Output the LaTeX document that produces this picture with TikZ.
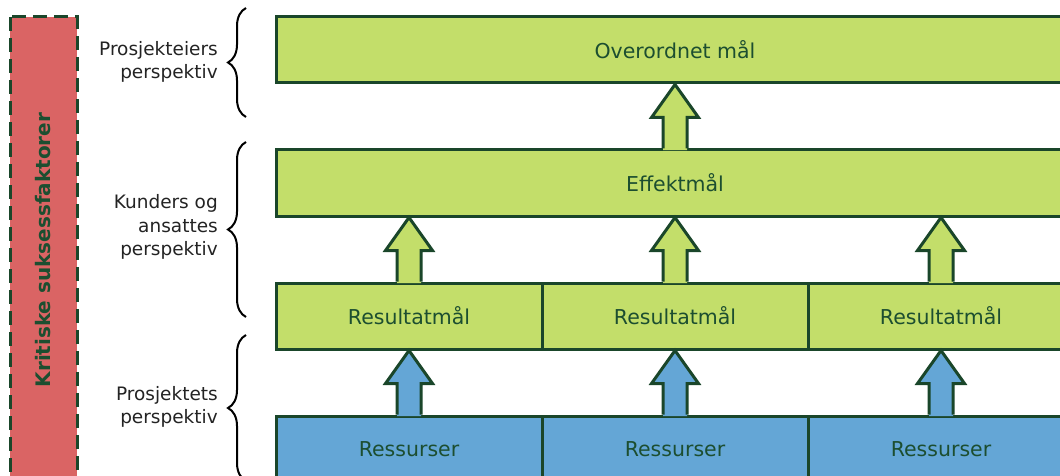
\documentclass[tikz,border=0pt]{standalone}
\usepackage{fontspec}
\setmainfont{DejaVu Sans}
\usetikzlibrary{calc,decorations.pathreplacing}
\definecolor{goalgreen}{RGB}{195,222,106}
\definecolor{resblue}{RGB}{100,166,214}
\definecolor{edgegreen}{RGB}{26,70,42}
\definecolor{txtgreen}{RGB}{28,78,48}
\definecolor{ksfred}{RGB}{218,100,100}
\definecolor{persgray}{RGB}{35,35,35}

\newcommand{\upblock}[3]{%
  \fill[#3] ($(#1)+(-12,1.6)$) -- ($(#2)+(-12,33)$) -- ($(#2)+(-23.5,33)$) -- (#2)
    -- ($(#2)+(23.5,33)$) -- ($(#2)+(12,33)$) -- ($(#1)+(12,1.6)$) -- cycle;
  \draw[edgegreen,line width=3pt,line join=miter] ($(#1)+(-12,0)$) -- ($(#2)+(-12,33)$)
    -- ($(#2)+(-23.5,33)$) -- (#2) -- ($(#2)+(23.5,33)$) -- ($(#2)+(12,33)$) -- ($(#1)+(12,0)$);
}

\begin{document}
\begin{tikzpicture}[x=1pt,y=-1pt,
  goalbox/.style={draw=edgegreen,line width=3pt,fill=goalgreen,text=txtgreen,
    minimum height=66,inner sep=0pt,font=\fontsize{20.5}{24}\selectfont},
  resbox/.style={goalbox,fill=resblue},
  persp/.style={anchor=east,align=right,text=persgray,inner sep=0pt,
    font=\fontsize{18.5}{23.5}\selectfont},
  bracket/.style={decorate,decoration={brace,amplitude=18pt},line width=2pt,black}]
  \useasboundingbox (0,0) rectangle (1060,476);
  \clip (0,0) rectangle (1060,476);

  \node[draw=edgegreen,line width=3pt,dash pattern=on 14pt off 7pt,fill=ksfred,
    text=txtgreen,rotate=90,minimum width=466,minimum height=67,inner sep=0pt,
    font=\bfseries\fontsize{20}{24}\selectfont] (ksf) at (43.5,250) {Kritiske suksessfaktorer};

  \node[goalbox,minimum width=798] (top) at (675,50) {Overordnet mål};
  \node[goalbox,minimum width=798] (eff) at (675,183) {Effektmål};
  \foreach \i/\x in {1/409,2/675,3/941} {
    \node[goalbox,minimum width=266] (r\i) at (\x,316) {Resultatmål};
    \node[resbox,minimum width=266] (s\i) at (\x,449) {Ressurser};
  }

  \foreach \i in {1,2,3} {
    \upblock{s\i.north}{r\i.south}{resblue}
    \upblock{r\i.north}{r\i.north |- eff.south}{goalgreen}
  }
  \upblock{eff.north}{top.south}{goalgreen}

  \coordinate (b1a) at (246,117); \coordinate (b1b) at (246,8);
  \coordinate (b2a) at (246,317); \coordinate (b2b) at (246,142);
  \coordinate (b3a) at (246,481); \coordinate (b3b) at (246,335);
  \draw[bracket] (b1a) -- (b1b);
  \draw[bracket] (b2a) -- (b2b);
  \draw[bracket] (b3a) -- (b3b);

  \node[persp] (p1) at (218,62) {Prosjekteiers\\perspektiv};
  \node[persp] (p2) at (218,227) {Kunders og\\ansattes\\perspektiv};
  \node[persp] (p3) at (218,407) {Prosjektets\\perspektiv};
\end{tikzpicture}
\end{document}
